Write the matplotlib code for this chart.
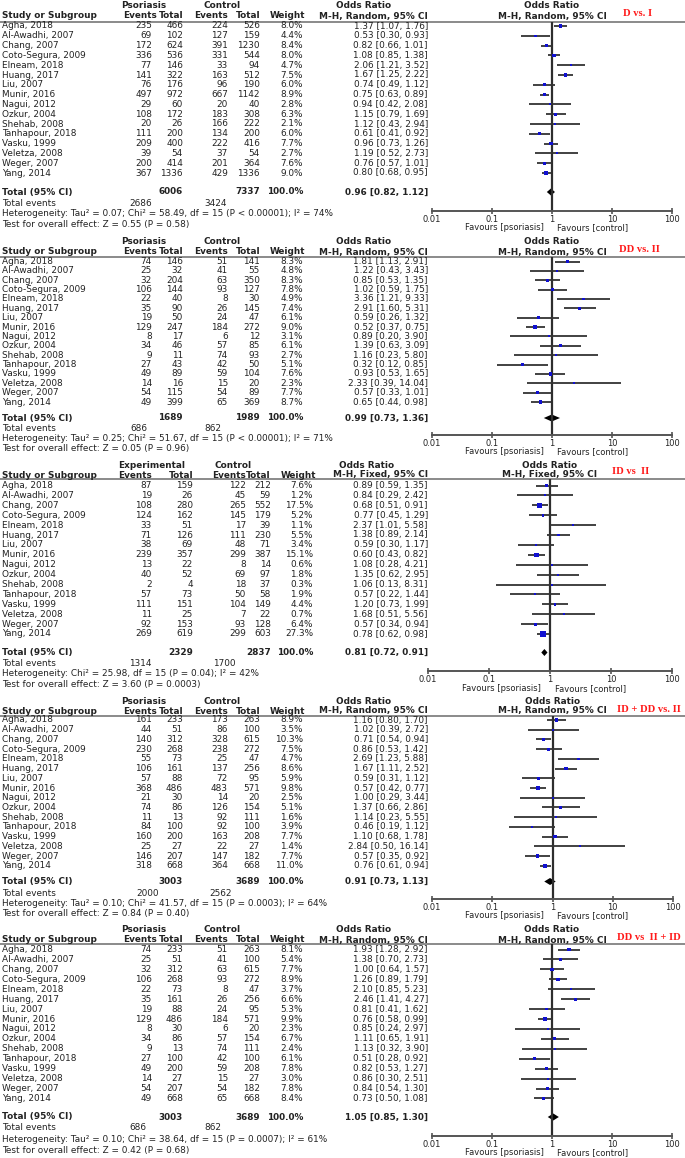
import numpy as np
import matplotlib.pyplot as plt

plt.rcParams['font.family'] = ['DejaVu Sans']

studies = ["Agha, 2018", "Al-Awadhi, 2007", "Chang, 2007", "Coto-Segura, 2009",
           "Elneam, 2018", "Huang, 2017", "Liu, 2007", "Munir, 2016", "Nagui, 2012",
           "Ozkur, 2004", "Shehab, 2008", "Tanhapour, 2018", "Vasku, 1999",
           "Veletza, 2008", "Weger, 2007", "Yang, 2014"]

# D vs. I
di_ev1 = [235, 69, 172, 336, 77, 141, 76, 497, 29, 108, 20, 111, 209, 39, 200, 367]
di_tot1 = [466, 102, 624, 536, 146, 322, 176, 972, 60, 172, 26, 200, 400, 54, 414, 1336]
di_ev2 = [224, 127, 391, 331, 33, 163, 96, 667, 20, 183, 166, 134, 222, 37, 201, 429]
di_tot2 = [526, 159, 1230, 544, 94, 512, 190, 1142, 40, 308, 222, 200, 416, 54, 364, 1336]
di_w = [8.0, 4.4, 8.4, 8.0, 4.7, 7.5, 6.0, 8.9, 2.8, 6.3, 2.1, 6.0, 7.7, 2.7, 7.6, 9.0]
di_or = [1.37, 0.53, 0.82, 1.08, 2.06, 1.67, 0.74, 0.75, 0.94, 1.15, 1.12, 0.61, 0.96, 1.19, 0.76, 0.80]
di_lo = [1.07, 0.30, 0.66, 0.85, 1.21, 1.25, 0.49, 0.63, 0.42, 0.79, 0.43, 0.41, 0.73, 0.52, 0.57, 0.68]
di_hi = [1.76, 0.93, 1.01, 1.38, 3.52, 2.22, 1.12, 0.89, 2.08, 1.69, 2.94, 0.92, 1.26, 2.73, 1.01, 0.95]
di_total = [6006, 7337, 0.96, 0.82, 1.12, 2686, 3424]

# DD vs. II
dd_ev1 = [74, 25, 32, 106, 22, 35, 19, 129, 8, 34, 9, 27, 49, 14, 54, 49]
dd_tot1 = [146, 32, 204, 144, 40, 90, 50, 247, 17, 46, 11, 43, 89, 16, 115, 399]
dd_ev2 = [51, 41, 63, 93, 8, 26, 24, 184, 6, 57, 74, 42, 59, 15, 54, 65]
dd_tot2 = [141, 55, 350, 127, 30, 145, 47, 272, 12, 85, 93, 50, 104, 20, 89, 369]
dd_w = [8.3, 4.8, 8.3, 7.8, 4.9, 7.4, 6.1, 9.0, 3.1, 6.1, 2.7, 5.1, 7.6, 2.3, 7.7, 8.7]
dd_or = [1.81, 1.22, 0.85, 1.02, 3.36, 2.91, 0.59, 0.52, 0.89, 1.39, 1.16, 0.32, 0.93, 2.33, 0.57, 0.65]
dd_lo = [1.13, 0.43, 0.53, 0.59, 1.21, 1.60, 0.26, 0.37, 0.20, 0.63, 0.23, 0.12, 0.53, 0.39, 0.33, 0.44]
dd_hi = [2.91, 3.43, 1.35, 1.75, 9.33, 5.31, 1.32, 0.75, 3.90, 3.09, 5.80, 0.85, 1.65, 14.04, 1.01, 0.98]
dd_total = [1689, 1989, 0.99, 0.73, 1.36, 686, 862]

# ID vs II
id_ev1 = [87, 19, 108, 124, 33, 71, 38, 239, 13, 40, 2, 57, 111, 11, 92, 269]
id_tot1 = [159, 26, 280, 162, 51, 126, 69, 357, 22, 52, 4, 73, 151, 25, 153, 619]
id_ev2 = [122, 45, 265, 145, 17, 111, 48, 299, 8, 69, 18, 50, 104, 7, 93, 299]
id_tot2 = [212, 59, 552, 179, 39, 230, 71, 387, 14, 97, 37, 58, 149, 22, 128, 603]
id_w = [7.6, 1.2, 17.5, 5.2, 1.1, 5.5, 3.4, 15.1, 0.6, 1.8, 0.3, 1.9, 4.4, 0.7, 6.4, 27.3]
id_or = [0.89, 0.84, 0.68, 0.77, 2.37, 1.38, 0.59, 0.60, 1.08, 1.35, 1.06, 0.57, 1.20, 1.68, 0.57, 0.78]
id_lo = [0.59, 0.29, 0.51, 0.45, 1.01, 0.89, 0.30, 0.43, 0.28, 0.62, 0.13, 0.22, 0.73, 0.51, 0.34, 0.62]
id_hi = [1.35, 2.42, 0.91, 1.29, 5.58, 2.14, 1.17, 0.82, 4.21, 2.95, 8.31, 1.44, 1.99, 5.56, 0.94, 0.98]
id_total = [2329, 2837, 0.81, 0.72, 0.91, 1314, 1700]

# ID + DD vs. II
iddd_ev1 = [161, 44, 140, 230, 55, 106, 57, 368, 21, 74, 11, 84, 160, 25, 146, 318]
iddd_tot1 = [233, 51, 312, 268, 73, 161, 88, 486, 30, 86, 13, 100, 200, 27, 207, 668]
iddd_ev2 = [173, 86, 328, 238, 25, 137, 72, 483, 14, 126, 92, 92, 163, 22, 147, 364]
iddd_tot2 = [263, 100, 615, 272, 47, 256, 95, 571, 20, 154, 111, 100, 208, 27, 182, 668]
iddd_w = [8.9, 3.5, 10.3, 7.5, 4.7, 8.6, 5.9, 9.8, 2.5, 5.1, 1.6, 3.9, 7.7, 1.4, 7.7, 11.0]
iddd_or = [1.16, 1.02, 0.71, 0.86, 2.69, 1.67, 0.59, 0.57, 1.00, 1.37, 1.14, 0.46, 1.10, 2.84, 0.57, 0.76]
iddd_lo = [0.80, 0.39, 0.54, 0.53, 1.23, 1.11, 0.31, 0.42, 0.29, 0.66, 0.23, 0.19, 0.68, 0.50, 0.35, 0.61]
iddd_hi = [1.70, 2.72, 0.94, 1.42, 5.88, 2.52, 1.12, 0.77, 3.44, 2.86, 5.55, 1.12, 1.78, 16.14, 0.92, 0.94]
iddd_total = [3003, 3689, 0.91, 0.73, 1.13, 2000, 2562]

# DD vs II + ID
ddid_ev1 = [74, 25, 32, 106, 22, 35, 19, 129, 8, 34, 9, 27, 49, 14, 54, 49]
ddid_tot1 = [233, 51, 312, 268, 73, 161, 88, 486, 30, 86, 13, 100, 200, 27, 207, 668]
ddid_ev2 = [51, 41, 63, 93, 8, 26, 24, 184, 6, 57, 74, 42, 59, 15, 54, 65]
ddid_tot2 = [263, 100, 615, 272, 47, 256, 95, 571, 20, 154, 111, 100, 208, 27, 182, 668]
ddid_w = [8.1, 5.4, 7.7, 8.9, 3.7, 6.6, 5.3, 9.9, 2.3, 6.7, 2.4, 6.1, 7.8, 3.0, 7.8, 8.4]
ddid_or = [1.93, 1.38, 1.00, 1.26, 2.10, 2.46, 0.81, 0.76, 0.85, 1.11, 1.13, 0.51, 0.82, 0.86, 0.84, 0.73]
ddid_lo = [1.28, 0.70, 0.64, 0.89, 0.85, 1.41, 0.41, 0.58, 0.24, 0.65, 0.32, 0.28, 0.53, 0.30, 0.54, 0.50]
ddid_hi = [2.92, 2.73, 1.57, 1.79, 5.23, 4.27, 1.62, 0.99, 2.97, 1.91, 3.90, 0.92, 1.27, 2.51, 1.30, 1.08]
ddid_total = [3003, 3689, 1.05, 0.85, 1.30, 686, 862]

tick_vals = [0.01, 0.1, 1, 10, 100]
tick_labels = ["0.01", "0.1", "1", "10", "100"]

panels = [
    dict(label="D vs. I", group1="Psoriasis", method="M-H, Random, 95% CI",
         het="Heterogeneity: Tau\u00b2 = 0.07; Chi\u00b2 = 58.49, df = 15 (P < 0.00001); I\u00b2 = 74%",
         test="Test for overall effect: Z = 0.55 (P = 0.58)",
         data=(di_ev1, di_tot1, di_ev2, di_tot2, di_w, di_or, di_lo, di_hi, di_total)),
    dict(label="DD vs. II", group1="Psoriasis", method="M-H, Random, 95% CI",
         het="Heterogeneity: Tau\u00b2 = 0.25; Chi\u00b2 = 51.67, df = 15 (P < 0.00001); I\u00b2 = 71%",
         test="Test for overall effect: Z = 0.05 (P = 0.96)",
         data=(dd_ev1, dd_tot1, dd_ev2, dd_tot2, dd_w, dd_or, dd_lo, dd_hi, dd_total)),
    dict(label="ID vs  II", group1="Experimental", method="M-H, Fixed, 95% CI",
         het="Heterogeneity: Chi\u00b2 = 25.98, df = 15 (P = 0.04); I\u00b2 = 42%",
         test="Test for overall effect: Z = 3.60 (P = 0.0003)",
         data=(id_ev1, id_tot1, id_ev2, id_tot2, id_w, id_or, id_lo, id_hi, id_total)),
    dict(label="ID + DD vs. II", group1="Psoriasis", method="M-H, Random, 95% CI",
         het="Heterogeneity: Tau\u00b2 = 0.10; Chi\u00b2 = 41.57, df = 15 (P = 0.0003); I\u00b2 = 64%",
         test="Test for overall effect: Z = 0.84 (P = 0.40)",
         data=(iddd_ev1, iddd_tot1, iddd_ev2, iddd_tot2, iddd_w, iddd_or, iddd_lo, iddd_hi, iddd_total)),
    dict(label="DD vs  II + ID", group1="Psoriasis", method="M-H, Random, 95% CI",
         het="Heterogeneity: Tau\u00b2 = 0.10; Chi\u00b2 = 38.64, df = 15 (P = 0.0007); I\u00b2 = 61%",
         test="Test for overall effect: Z = 0.42 (P = 0.68)",
         data=(ddid_ev1, ddid_tot1, ddid_ev2, ddid_tot2, ddid_w, ddid_or, ddid_lo, ddid_hi, ddid_total)),
]

# layout in pixels (figure is 685 x 1158)
W, H = 685, 1158
cols_a = dict(ev1=152, tot1=183, ev2=228, tot2=260, wt=303, orr=428,
              h_ev1=157, h_tot1=184, h_ev2=228, h_tot2=261, h_wt=305,
              g1=144, g2=222, g3=364)
cols_b = dict(ev1=152, tot1=193, ev2=246, tot2=271, wt=313, orr=428,
              h_ev1=152, h_tot1=194, h_ev2=246, h_tot2=271, h_wt=316,
              g1=152, g2=233, g3=367)
layouts = [
    dict(top=0, bot=231, agha=26, dy=9.8, line=21.5, axis=211, hdr1=6, hdr2=16, total=192,
         events=203, het=213.5, test=224, lbl=(623, 13), fx=(432, 672), evx=(129, 204), cols=cols_a),
    dict(top=231, bot=463, agha=261.5, dy=9.37, line=256.5, axis=435, hdr1=242, hdr2=252, total=418,
         events=428.3, het=438.3, test=448.5, lbl=(619, 250), fx=(432, 672), evx=(130, 204), cols=cols_a),
    dict(top=463, bot=697, agha=485.5, dy=9.9, line=479, axis=671.3, hdr1=465, hdr2=475, total=652.5,
         events=663.5, het=674, test=684.5, lbl=(612, 472), fx=(428, 672), evx=(129, 213), cols=cols_b),
    dict(top=697, bot=927, agha=720, dy=9.72, line=716, axis=899, hdr1=701, hdr2=711, total=881.5,
         events=893, het=903.3, test=913.5, lbl=(617, 709), fx=(432, 673), evx=(136, 209), cols=cols_a),
    dict(top=927, bot=1158, agha=949.5, dy=9.93, line=944, axis=1135.7, hdr1=930, hdr2=940, total=1117,
         events=1128, het=1139, test=1150, lbl=(617, 937), fx=(432, 672), evx=(129, 204), cols=cols_a),
]

FS = 6.4
FS_AX = 6.0
TXT = '#222222'

fig = plt.figure(figsize=(W / 100, H / 100), dpi=100)


def draw_panel(p, lay):
    ev1, tot1, ev2, tot2, w, orr, lo, hi, total = p['data']
    c = lay['cols']

    def r(py):
        return (py - lay['agha']) / lay['dy']

    ylim = (r(lay['bot']), r(lay['top']))
    hfrac = (lay['bot'] - lay['top']) / H
    bottom = 1 - lay['bot'] / H

    ax = fig.add_axes([0, bottom, 1, hfrac])
    ax.set_xlim(0, W)
    ax.set_ylim(*ylim)
    ax.axis('off')

    kw = dict(fontsize=FS, color=TXT, va='center')
    bkw = dict(kw, fontweight='bold')

    # headers
    ax.text(c['g1'], r(lay['hdr1']), p['group1'], ha='center', **bkw)
    ax.text(c['g2'], r(lay['hdr1']), "Control", ha='center', **bkw)
    ax.text(c['g3'], r(lay['hdr1']), "Odds Ratio", ha='center', **bkw)
    ax.text(2, r(lay['hdr2']), "Study or Subgroup", ha='left', **bkw)
    ax.text(c['h_ev1'], r(lay['hdr2']), "Events", ha='right', **bkw)
    ax.text(c['h_tot1'], r(lay['hdr2']), "Total", ha='right', **bkw)
    ax.text(c['h_ev2'], r(lay['hdr2']), "Events", ha='right', **bkw)
    ax.text(c['h_tot2'], r(lay['hdr2']), "Total", ha='right', **bkw)
    ax.text(c['h_wt'], r(lay['hdr2']), "Weight", ha='right', **bkw)
    ax.text(c['orr'], r(lay['hdr2']), p['method'], ha='right', **bkw)
    ax.plot([0, W], [r(lay['line'])] * 2, color='#8a8a8a', lw=1.4, solid_capstyle='butt')

    ax.text(lay['lbl'][0], r(lay['lbl'][1]), p['label'], ha='left', va='center',
            fontsize=7.6, color='#ff1a1a', fontweight='bold',
            family=['Liberation Serif', 'DejaVu Serif'])

    rows = np.arange(len(studies))
    for i in rows:
        ax.text(2, i, studies[i], ha='left', **kw)
        ax.text(c['ev1'], i, str(ev1[i]), ha='right', **kw)
        ax.text(c['tot1'], i, str(tot1[i]), ha='right', **kw)
        ax.text(c['ev2'], i, str(ev2[i]), ha='right', **kw)
        ax.text(c['tot2'], i, str(tot2[i]), ha='right', **kw)
        ax.text(c['wt'], i, f"{w[i]:.1f}%", ha='right', **kw)
        ax.text(c['orr'], i, f"{orr[i]:.2f} [{lo[i]:.2f}, {hi[i]:.2f}]", ha='right', **kw)

    t_n1, t_n2, t_or, t_lo, t_hi, t_e1, t_e2 = total
    yt = r(lay['total'])
    ax.text(2, yt, "Total (95% CI)", ha='left', **bkw)
    ax.text(c['tot1'], yt, str(t_n1), ha='right', **bkw)
    ax.text(c['tot2'], yt, str(t_n2), ha='right', **bkw)
    ax.text(c['wt'], yt, "100.0%", ha='right', **bkw)
    ax.text(c['orr'], yt, f"{t_or:.2f} [{t_lo:.2f}, {t_hi:.2f}]", ha='right', **bkw)
    ye = r(lay['events'])
    ax.text(2, ye, "Total events", ha='left', **kw)
    ax.text(lay['evx'][0], ye, str(t_e1), ha='left', **kw)
    ax.text(lay['evx'][1], ye, str(t_e2), ha='left', **kw)
    ax.text(2, r(lay['het']), p['het'], ha='left', **kw)
    ax.text(2, r(lay['test']), p['test'], ha='left', **kw)

    # forest plot
    fx0, fx1 = lay['fx']
    af = fig.add_axes([fx0 / W, bottom, (fx1 - fx0) / W, hfrac])
    af.patch.set_visible(False)
    af.set_xscale('log')
    af.set_xlim(0.01, 100)
    af.set_ylim(*ylim)
    for s in ['top', 'left', 'right']:
        af.spines[s].set_visible(False)
    af.spines['bottom'].set_position(('data', r(lay['axis'])))
    af.spines['bottom'].set_color('#555555')
    af.spines['bottom'].set_linewidth(1.4)
    af.set_yticks([])
    af.set_xticks(tick_vals)
    af.set_xticklabels(tick_labels)
    af.minorticks_off()
    af.tick_params(axis='x', direction='inout', length=5, width=1.2, color='#555555',
                   labelcolor=TXT, labelsize=FS_AX, pad=0.5)

    af.plot([1, 1], [r(lay['line']), r(lay['axis'])], color='#2e2e2e', lw=1.6,
            solid_capstyle='butt', clip_on=False)
    af.hlines(rows, lo, hi, color='#333333', lw=1.3, clip_on=False)
    side = np.maximum(2.0, 1.15 * np.sqrt(np.array(w)))
    af.scatter(orr, rows, marker='s', s=(side * 0.72) ** 2, color='#1010d0', lw=0,
               zorder=3, clip_on=False)
    hd = 3.5 / lay['dy']
    af.fill([t_lo, t_or, t_hi, t_or], [yt, yt - hd, yt, yt + hd], color='black', lw=0)

    af.text(1, r(lay['hdr1']), "Odds Ratio", ha='center', **bkw)
    af.text(1, r(lay['hdr2']), p['method'], ha='center', **bkw)
    yf = r(lay['axis'] + 17)
    af.text(0.72, yf, "Favours [psoriasis]", ha='right', va='center', fontsize=FS_AX, color=TXT)
    af.text(1.2, yf, "Favours [control]", ha='left', va='center', fontsize=FS_AX, color=TXT)


for p, lay in zip(panels, layouts):
    draw_panel(p, lay)

fig.savefig('out.png', dpi=100)
